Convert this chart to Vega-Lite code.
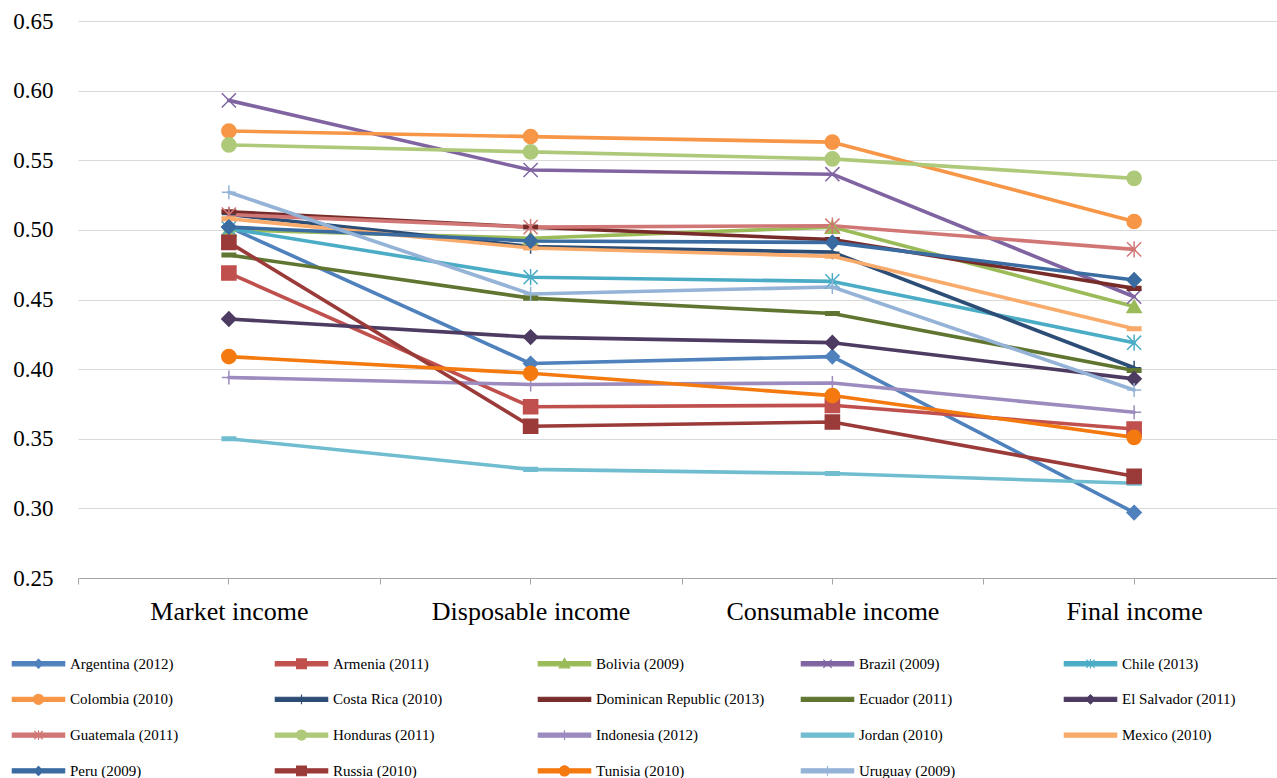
{
  "$schema": "https://vega.github.io/schema/vega-lite/v6.json",
  "width": 1199,
  "height": 557,
  "autosize": {"type": "none"},
  "padding": {"left": 78, "top": 21, "right": 0, "bottom": 200},
  "background": "white",
  "config": {"view": {"stroke": null}, "font": "Liberation Serif"},
  "data": {"values": [
    {"c": "Argentina (2012)", "t": "Market income", "v": 0.502},
    {"c": "Argentina (2012)", "t": "Disposable income", "v": 0.404},
    {"c": "Argentina (2012)", "t": "Consumable income", "v": 0.409},
    {"c": "Argentina (2012)", "t": "Final income", "v": 0.297},
    {"c": "Armenia (2011)", "t": "Market income", "v": 0.469},
    {"c": "Armenia (2011)", "t": "Disposable income", "v": 0.373},
    {"c": "Armenia (2011)", "t": "Consumable income", "v": 0.374},
    {"c": "Armenia (2011)", "t": "Final income", "v": 0.357},
    {"c": "Bolivia (2009)", "t": "Market income", "v": 0.5},
    {"c": "Bolivia (2009)", "t": "Disposable income", "v": 0.494},
    {"c": "Bolivia (2009)", "t": "Consumable income", "v": 0.502},
    {"c": "Bolivia (2009)", "t": "Final income", "v": 0.445},
    {"c": "Brazil (2009)", "t": "Market income", "v": 0.593},
    {"c": "Brazil (2009)", "t": "Disposable income", "v": 0.543},
    {"c": "Brazil (2009)", "t": "Consumable income", "v": 0.54},
    {"c": "Brazil (2009)", "t": "Final income", "v": 0.452},
    {"c": "Chile (2013)", "t": "Market income", "v": 0.501},
    {"c": "Chile (2013)", "t": "Disposable income", "v": 0.466},
    {"c": "Chile (2013)", "t": "Consumable income", "v": 0.463},
    {"c": "Chile (2013)", "t": "Final income", "v": 0.419},
    {"c": "Colombia (2010)", "t": "Market income", "v": 0.571},
    {"c": "Colombia (2010)", "t": "Disposable income", "v": 0.567},
    {"c": "Colombia (2010)", "t": "Consumable income", "v": 0.563},
    {"c": "Colombia (2010)", "t": "Final income", "v": 0.506},
    {"c": "Costa Rica (2010)", "t": "Market income", "v": 0.511},
    {"c": "Costa Rica (2010)", "t": "Disposable income", "v": 0.488},
    {"c": "Costa Rica (2010)", "t": "Consumable income", "v": 0.484},
    {"c": "Costa Rica (2010)", "t": "Final income", "v": 0.401},
    {"c": "Dominican Republic (2013)", "t": "Market income", "v": 0.513},
    {"c": "Dominican Republic (2013)", "t": "Disposable income", "v": 0.502},
    {"c": "Dominican Republic (2013)", "t": "Consumable income", "v": 0.493},
    {"c": "Dominican Republic (2013)", "t": "Final income", "v": 0.458},
    {"c": "Ecuador (2011)", "t": "Market income", "v": 0.482},
    {"c": "Ecuador (2011)", "t": "Disposable income", "v": 0.451},
    {"c": "Ecuador (2011)", "t": "Consumable income", "v": 0.44},
    {"c": "Ecuador (2011)", "t": "Final income", "v": 0.399},
    {"c": "El Salvador (2011)", "t": "Market income", "v": 0.436},
    {"c": "El Salvador (2011)", "t": "Disposable income", "v": 0.423},
    {"c": "El Salvador (2011)", "t": "Consumable income", "v": 0.419},
    {"c": "El Salvador (2011)", "t": "Final income", "v": 0.393},
    {"c": "Guatemala (2011)", "t": "Market income", "v": 0.511},
    {"c": "Guatemala (2011)", "t": "Disposable income", "v": 0.502},
    {"c": "Guatemala (2011)", "t": "Consumable income", "v": 0.503},
    {"c": "Guatemala (2011)", "t": "Final income", "v": 0.486},
    {"c": "Honduras (2011)", "t": "Market income", "v": 0.561},
    {"c": "Honduras (2011)", "t": "Disposable income", "v": 0.556},
    {"c": "Honduras (2011)", "t": "Consumable income", "v": 0.551},
    {"c": "Honduras (2011)", "t": "Final income", "v": 0.537},
    {"c": "Indonesia (2012)", "t": "Market income", "v": 0.394},
    {"c": "Indonesia (2012)", "t": "Disposable income", "v": 0.389},
    {"c": "Indonesia (2012)", "t": "Consumable income", "v": 0.39},
    {"c": "Indonesia (2012)", "t": "Final income", "v": 0.369},
    {"c": "Jordan (2010)", "t": "Market income", "v": 0.35},
    {"c": "Jordan (2010)", "t": "Disposable income", "v": 0.328},
    {"c": "Jordan (2010)", "t": "Consumable income", "v": 0.325},
    {"c": "Jordan (2010)", "t": "Final income", "v": 0.318},
    {"c": "Mexico (2010)", "t": "Market income", "v": 0.508},
    {"c": "Mexico (2010)", "t": "Disposable income", "v": 0.487},
    {"c": "Mexico (2010)", "t": "Consumable income", "v": 0.481},
    {"c": "Mexico (2010)", "t": "Final income", "v": 0.429},
    {"c": "Peru (2009)", "t": "Market income", "v": 0.502},
    {"c": "Peru (2009)", "t": "Disposable income", "v": 0.492},
    {"c": "Peru (2009)", "t": "Consumable income", "v": 0.491},
    {"c": "Peru (2009)", "t": "Final income", "v": 0.464},
    {"c": "Russia (2010)", "t": "Market income", "v": 0.491},
    {"c": "Russia (2010)", "t": "Disposable income", "v": 0.359},
    {"c": "Russia (2010)", "t": "Consumable income", "v": 0.362},
    {"c": "Russia (2010)", "t": "Final income", "v": 0.323},
    {"c": "Tunisia (2010)", "t": "Market income", "v": 0.409},
    {"c": "Tunisia (2010)", "t": "Disposable income", "v": 0.397},
    {"c": "Tunisia (2010)", "t": "Consumable income", "v": 0.381},
    {"c": "Tunisia (2010)", "t": "Final income", "v": 0.351},
    {"c": "Uruguay (2009)", "t": "Market income", "v": 0.527},
    {"c": "Uruguay (2009)", "t": "Disposable income", "v": 0.454},
    {"c": "Uruguay (2009)", "t": "Consumable income", "v": 0.459},
    {"c": "Uruguay (2009)", "t": "Final income", "v": 0.385}
  ]},
  "resolve": {"scale": {"x": "shared"}, "axis": {"x": "independent"}},
  "layer": [
    {
      "mark": {"type": "line", "strokeWidth": 3.6, "strokeCap": "round", "strokeJoin": "round"},
      "encoding": {
        "x": {"field": "t", "type": "nominal", "sort": ["Market income", "Disposable income", "Consumable income", "Final income"],
          "scale": {"type": "band", "paddingInner": 0, "paddingOuter": 0, "range": [0, 1207]},
          "axis": {"orient": "bottom", "title": null, "tickBand": "extent", "labelAngle": 0, "grid": false,
            "domainColor": "#A6A6A6", "domainWidth": 1, "tickColor": "#A6A6A6", "tickWidth": 1, "tickSize": 6,
            "labelFont": "Liberation Serif", "labelFontSize": 26, "labelColor": "#000000", "labelPadding": 14, "labelLimit": 500,
            "encode": {"ticks": {"y": {"value": -5}, "y2": {"value": 6}}}}},
        "y": {"field": "v", "type": "quantitative",
          "scale": {"domain": [0.25, 0.65], "nice": false, "zero": false},
          "axis": {"title": null, "domain": false, "ticks": false, "grid": true, "gridColor": "#D9D9D9", "gridWidth": 1,
            "values": [0.25, 0.3, 0.35, 0.4, 0.45, 0.5, 0.55, 0.6, 0.65], "format": ".2f",
            "labelFont": "Liberation Serif", "labelFontSize": 23, "labelColor": "#000000", "labelPadding": 25}},
        "color": {"field": "c", "type": "nominal",
          "scale": {
            "domain": ["Argentina (2012)", "Armenia (2011)", "Bolivia (2009)", "Brazil (2009)", "Chile (2013)", "Colombia (2010)", "Costa Rica (2010)", "Dominican Republic (2013)", "Ecuador (2011)", "El Salvador (2011)", "Guatemala (2011)", "Honduras (2011)", "Indonesia (2012)", "Jordan (2010)", "Mexico (2010)", "Peru (2009)", "Russia (2010)", "Tunisia (2010)", "Uruguay (2009)"],
            "range": ["#4F81BD", "#C0504D", "#9BBB59", "#8064A2", "#4BACC6", "#F79646", "#2C4D75", "#772C2A", "#5F7530", "#4D3B62", "#D07775", "#AFC97A", "#9C8BBE", "#70BDD0", "#F9AB6B", "#3A6BA1", "#9B3B39", "#F47A10", "#95B3D7"]},
          "legend": {
            "orient": "none", "legendX": -69, "legendY": 635, "direction": "horizontal", "columns": 5, "title": null,
            "gridAlign": "all", "columnPadding": 33, "rowPadding": 19.8,
            "symbolSize": 56, "symbolStrokeWidth": 1.2, "symbolOffset": 22, "labelOffset": 24,
            "labelFont": "Liberation Serif", "labelFontSize": 15, "labelColor": "#000000", "labelLimit": 400,
            "encode": {"symbols": {"update": {
              "shape": {"signal": "['M-7,-0.55H7V0.55H-7ZM0,-1.2L1.2,0L0,1.2L-1.2,0Z','M-7,-0.55H7V0.55H-7ZM-1.3,-1.3H1.3V1.3H-1.3Z','M-7,-0.55H7V0.55H-7ZM0,-1.4L1.4,1.1H-1.4Z','M-7,-0.55H7V0.55H-7ZM-1.1,-1.1L1.1,1.1M-1.1,1.1L1.1,-1.1','M-7,-0.55H7V0.55H-7ZM-1.1,-1.1L1.1,1.1M-1.1,1.1L1.1,-1.1M0,-1.3V1.3','M-7,-0.55H7V0.55H-7ZM-1.35,0A1.35,1.35 0 1,1 1.35,0A1.35,1.35 0 1,1 -1.35,0Z','M-7,-0.55H7V0.55H-7ZM0,-1.3V1.3','M-7,-0.55H7V0.55H-7Z','M-7,-0.55H7V0.55H-7Z','M-7,-0.55H7V0.55H-7ZM0,-1.2L1.2,0L0,1.2L-1.2,0Z','M-7,-0.55H7V0.55H-7ZM-1.1,-1.1L1.1,1.1M-1.1,1.1L1.1,-1.1M0,-1.3V1.3','M-7,-0.55H7V0.55H-7ZM-1.35,0A1.35,1.35 0 1,1 1.35,0A1.35,1.35 0 1,1 -1.35,0Z','M-7,-0.55H7V0.55H-7ZM0,-1.3V1.3','M-7,-0.55H7V0.55H-7Z','M-7,-0.55H7V0.55H-7Z','M-7,-0.55H7V0.55H-7ZM0,-1.2L1.2,0L0,1.2L-1.2,0Z','M-7,-0.55H7V0.55H-7ZM-1.3,-1.3H1.3V1.3H-1.3Z','M-7,-0.55H7V0.55H-7ZM-1.35,0A1.35,1.35 0 1,1 1.35,0A1.35,1.35 0 1,1 -1.35,0Z','M-7,-0.55H7V0.55H-7ZM0,-1.3V1.3'][indexof(['Argentina (2012)','Armenia (2011)','Bolivia (2009)','Brazil (2009)','Chile (2013)','Colombia (2010)','Costa Rica (2010)','Dominican Republic (2013)','Ecuador (2011)','El Salvador (2011)','Guatemala (2011)','Honduras (2011)','Indonesia (2012)','Jordan (2010)','Mexico (2010)','Peru (2009)','Russia (2010)','Tunisia (2010)','Uruguay (2009)'], datum.value)]"},
              "fill": {"scale": "color", "field": "value"},
              "stroke": {"scale": "color", "field": "value"},
              "strokeWidth": {"value": 1.2},
              "opacity": {"value": 1}
            }}}
          }
        }
      }
    },
    {
      "mark": {"type": "point", "filled": true, "size": 200, "strokeWidth": 1.5, "opacity": 1},
      "encoding": {
        "x": {"field": "t", "type": "nominal", "sort": ["Market income", "Disposable income", "Consumable income", "Final income"],
          "axis": {"orient": "bottom", "title": null, "tickBand": "center", "labels": false, "domain": false, "grid": false,
            "tickColor": "#A6A6A6", "tickWidth": 1, "tickSize": 6,
            "encode": {"ticks": {"y": {"value": -5}, "y2": {"value": 6}}}}},
        "y": {"field": "v", "type": "quantitative"},
        "color": {"field": "c", "type": "nominal"},
        "stroke": {"field": "c", "type": "nominal", "legend": null,
          "scale": {
            "domain": ["Uruguay (2009)", "Tunisia (2010)", "Russia (2010)", "Peru (2009)", "Mexico (2010)", "Jordan (2010)", "Indonesia (2012)", "Honduras (2011)", "Guatemala (2011)", "El Salvador (2011)", "Ecuador (2011)", "Dominican Republic (2013)", "Costa Rica (2010)", "Colombia (2010)", "Chile (2013)", "Brazil (2009)", "Bolivia (2009)", "Armenia (2011)", "Argentina (2012)"],
            "range": ["#95B3D7", "#F47A10", "#9B3B39", "#3A6BA1", "#F9AB6B", "#70BDD0", "#9C8BBE", "#AFC97A", "#D07775", "#4D3B62", "#5F7530", "#772C2A", "#2C4D75", "#F79646", "#4BACC6", "#8064A2", "#9BBB59", "#C0504D", "#4F81BD"]}},
        "shape": {"field": "c", "type": "nominal", "legend": null,
          "scale": {
            "domain": ["Armenia (2011)", "Argentina (2012)", "Bolivia (2009)", "Brazil (2009)", "Chile (2013)", "Colombia (2010)", "Costa Rica (2010)", "Dominican Republic (2013)", "Ecuador (2011)", "El Salvador (2011)", "Guatemala (2011)", "Honduras (2011)", "Indonesia (2012)", "Jordan (2010)", "Mexico (2010)", "Peru (2009)", "Russia (2010)", "Tunisia (2010)", "Uruguay (2009)"],
            "range": ["square", "diamond", "triangle-up", "M-1,-1L1,1M-1,1L1,-1", "M-1,-1L1,1M-1,1L1,-1M0,-1.15V1.15", "circle", "M-1,0H1M0,-1V1", "M-0.95,-0.25H0.95V0.25H-0.95Z", "M-0.95,-0.25H0.95V0.25H-0.95Z", "diamond", "M-1,-1L1,1M-1,1L1,-1M0,-1.15V1.15", "circle", "M-1,0H1M0,-1V1", "M-0.95,-0.25H0.95V0.25H-0.95Z", "M-0.95,-0.25H0.95V0.25H-0.95Z", "diamond", "square", "circle", "M-1,0H1M0,-1V1"]}}
      }
    }
  ]
}
